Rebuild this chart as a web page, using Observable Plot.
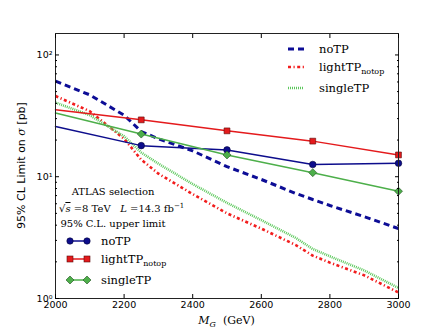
<!DOCTYPE html>
<html>
<head>
<meta charset="utf-8">
<script src="https://cdn.jsdelivr.net/npm/d3@7"></script>
<script src="https://cdn.jsdelivr.net/npm/@observablehq/plot@0.6"></script>
<style>
  html, body { margin: 0; padding: 0; background: white; }
  #chart { position: relative; width: 443px; height: 332px; }
</style>
</head>
<body>
<div id="chart"></div>
<script>
// ---- data ----
const massPoints = [2000, 2250, 2500, 2750, 3000];
const noTPObs = [25.8, 18.0, 16.6, 12.6, 12.9];
const lightTPObs = [35.4, 29.3, 23.8, 19.6, 15.1];
const singleTPObs = [33.3, 22.4, 15.1, 10.8, 7.6];

const curveMass = [2000, 2100, 2200, 2250, 2300, 2400, 2500, 2600, 2700, 2750, 2800, 2900, 3000];
const noTPCurve = [61, 47, 32, 23.5, 20.5, 16.3, 12.1, 9.5, 7.3, 6.5, 5.8, 4.7, 3.75];
const lightTPCurve = [46, 34.5, 20.5, 13.8, 10.6, 7.2, 5.0, 3.75, 2.75, 2.25, 1.97, 1.55, 1.12];
const singleTPCurve = [40.6, 32, 21.5, 15.8, 12.8, 8.7, 6.1, 4.4, 3.15, 2.55, 2.22, 1.7, 1.22];

const xTicks = [2000, 2200, 2400, 2600, 2800, 3000];
const yMajorTicks = [1, 10, 100];
const yMinorTicks = [2,3,4,5,6,7,8,9,20,30,40,50,60,70,80,90];
const yTickLabels = ["10⁰", "10¹", "10²"];

const seriesNames = ["noTP", "lightTP", "singleTP"];
const colors = { noTP: "#0d0d8c", lightTP: "#e41a1c", singleTP: "#4daf4a" };
const curveColors = { noTP: "#0d0d96", lightTP: "#f21d1d", singleTP: "#5cc85c" };

const annotationLines = ["ATLAS selection", "95% C.L. upper limit"];

// ---- tables ----
const obs = [];
[noTPObs, lightTPObs, singleTPObs].forEach((arr, i) =>
  arr.forEach((v, j) => obs.push({series: seriesNames[i], mass: massPoints[j], limit: v})));
const curves = {};
[noTPCurve, lightTPCurve, singleTPCurve].forEach((arr, i) =>
  curves[seriesNames[i]] = arr.map((v, j) => ({mass: curveMass[j], limit: v})));

const markerObs = obs.filter(d => d.mass > 2000);

const dashStyles = {
  noTP: { w: 3, dash: "6,4" },
  lightTP: { w: 2.6, dash: "3,2.5,1.2,2.5" },
  singleTP: { w: 2.6, dash: "1,1" }
};

const plot = Plot.plot({
  width: 443,
  height: 332,
  marginLeft: 55,
  marginRight: 45,
  marginTop: 33,
  marginBottom: 34,
  style: { fontFamily: "DejaVu Sans, sans-serif", fontSize: "9.5px", background: "white", color: "black" },
  x: { domain: [2000, 3000] },
  y: { type: "log", domain: [1, 150] },
  marks: [
    ...seriesNames.map(s => Plot.line(curves[s], {
      x: "mass", y: "limit", stroke: curveColors[s], strokeWidth: dashStyles[s].w,
      strokeDasharray: dashStyles[s].dash, strokeLinecap: "butt", strokeLinejoin: "miter", clip: true
    })),
    Plot.line(obs, { x: "mass", y: "limit", z: "series", stroke: d => colors[d.series], strokeWidth: 1.5 }),
    Plot.dot(markerObs.filter(d => d.series === "noTP"), { x: "mass", y: "limit", r: 3.3, fill: colors.noTP, stroke: "#05053a", strokeWidth: 0.6 }),
    Plot.dot(markerObs.filter(d => d.series === "lightTP"), { x: "mass", y: "limit", symbol: "square", r: 3.3, fill: colors.lightTP, stroke: "#5a0a0a", strokeWidth: 0.6 }),
    Plot.dot(markerObs.filter(d => d.series === "singleTP"), { x: "mass", y: "limit", symbol: "diamond2", r: 3.6, fill: colors.singleTP, stroke: "#1d4d1c", strokeWidth: 0.6 }),
    Plot.frame({ stroke: "#222", strokeWidth: 1 }),
    Plot.axisX({ anchor: "bottom", ticks: xTicks, tickSize: -4, tickPadding: 7, tickFormat: d => String(d), label: null, fill: "black" }),
    Plot.axisX({ anchor: "top", ticks: xTicks, tickSize: -4, tickFormat: () => "", label: null }),
    Plot.axisY({ anchor: "left", ticks: yMajorTicks, tickSize: -4, tickPadding: 7, tickFormat: d => yTickLabels[yMajorTicks.indexOf(d)], label: null, fill: "black" }),
    Plot.axisY({ anchor: "left", ticks: yMinorTicks, tickSize: -2, tickFormat: () => "", label: null }),
    Plot.axisY({ anchor: "right", ticks: yMajorTicks, tickSize: -4, tickFormat: () => "", label: null }),
    Plot.axisY({ anchor: "right", ticks: yMinorTicks, tickSize: -2, tickFormat: () => "", label: null })
  ]
});

document.getElementById("chart").appendChild(plot);

// ---- labels and legends added to the SVG ----
const svg = d3.select(plot);
const serif = "DejaVu Serif, serif";

const yl = svg.append("text")
  .attr("transform", "translate(25,165.5) rotate(-90)")
  .attr("text-anchor", "middle")
  .attr("font-family", "DejaVu Sans, sans-serif")
  .attr("font-size", "11px")
  .attr("fill", "black");
yl.append("tspan").text("95% CL Limit on ");
yl.append("tspan").attr("font-family", serif).attr("font-style", "italic").text("σ");
yl.append("tspan").text(" [pb]");

const xl = svg.append("text")
  .attr("x", 226.5).attr("y", 324)
  .attr("text-anchor", "middle")
  .attr("font-family", serif)
  .attr("font-size", "11px")
  .attr("fill", "black")
  .attr("xml:space", "preserve");
xl.append("tspan").attr("font-style", "italic").text("M");
xl.append("tspan").attr("font-style", "italic").attr("font-size", "8px").attr("dy", 3).text("G");
xl.append("tspan").attr("dy", -3).text("  (GeV)");

// upper-right legend
const ur = svg.append("g").attr("transform", "translate(288,49)");
seriesNames.forEach((s, i) => {
  const dy = [0, 18, 39][i];
  ur.append("line").attr("x1", 0).attr("x2", 16).attr("y1", dy).attr("y2", dy)
    .attr("stroke", curveColors[s]).attr("stroke-width", dashStyles[s].w)
    .attr("stroke-dasharray", dashStyles[s].dash).attr("stroke-linecap", "butt");
  const t = ur.append("text").attr("x", 31).attr("y", dy + 4).attr("text-anchor", "start")
    .attr("font-family", serif).attr("font-size", "11.5px").attr("fill", "black");
  t.append("tspan").text(s);
  if (s === "lightTP") t.append("tspan").attr("font-size", "8px").attr("dy", 3).text("notop");
});

// lower-left annotation + legend
const ann = svg.append("g").attr("font-family", serif).attr("fill", "black").attr("font-size", "10px");
ann.append("text").attr("x", 113).attr("y", 195).attr("text-anchor", "middle").text(annotationLines[0]);
const l2 = ann.append("text").attr("x", 59).attr("y", 212).attr("text-anchor", "start").attr("xml:space", "preserve");
l2.append("tspan").text("√");
l2.append("tspan").attr("font-style", "italic").attr("text-decoration", "overline").text("s");
l2.append("tspan").text(" =8 TeV   ");
l2.append("tspan").attr("font-style", "italic").text("L");
l2.append("tspan").text(" =14.3 fb");
l2.append("tspan").attr("font-size", "7px").attr("dy", -4).text("−1");
ann.append("text").attr("x", 113).attr("y", 227).attr("text-anchor", "middle").text(annotationLines[1]);

const edges = { noTP: "#05053a", lightTP: "#5a0a0a", singleTP: "#1d4d1c" };
const ll = svg.append("g").attr("transform", "translate(68,241)");
seriesNames.forEach((s, i) => {
  const dy = [0, 18, 39][i];
  ll.append("line").attr("x1", 2).attr("x2", 19).attr("y1", dy).attr("y2", dy)
    .attr("stroke", colors[s]).attr("stroke-width", 1.5);
  [2, 19].forEach(cx => {
    if (i === 0) {
      ll.append("circle").attr("cx", cx).attr("cy", dy).attr("r", 3.2).attr("fill", colors[s]).attr("stroke", edges[s]).attr("stroke-width", 0.6);
    } else if (i === 1) {
      ll.append("rect").attr("x", cx - 3).attr("y", dy - 3).attr("width", 6).attr("height", 6).attr("fill", colors[s]).attr("stroke", edges[s]).attr("stroke-width", 0.6);
    } else {
      ll.append("path").attr("d", `M${cx},${dy-4}L${cx+4},${dy}L${cx},${dy+4}L${cx-4},${dy}Z`).attr("fill", colors[s]).attr("stroke", edges[s]).attr("stroke-width", 0.6);
    }
  });
  const t = ll.append("text").attr("x", 33).attr("y", dy + 4).attr("text-anchor", "start")
    .attr("font-family", serif).attr("font-size", "11.5px").attr("fill", "black");
  t.append("tspan").text(s);
  if (s === "lightTP") t.append("tspan").attr("font-size", "8px").attr("dy", 3).text("notop");
});
</script>
</body>
</html>
